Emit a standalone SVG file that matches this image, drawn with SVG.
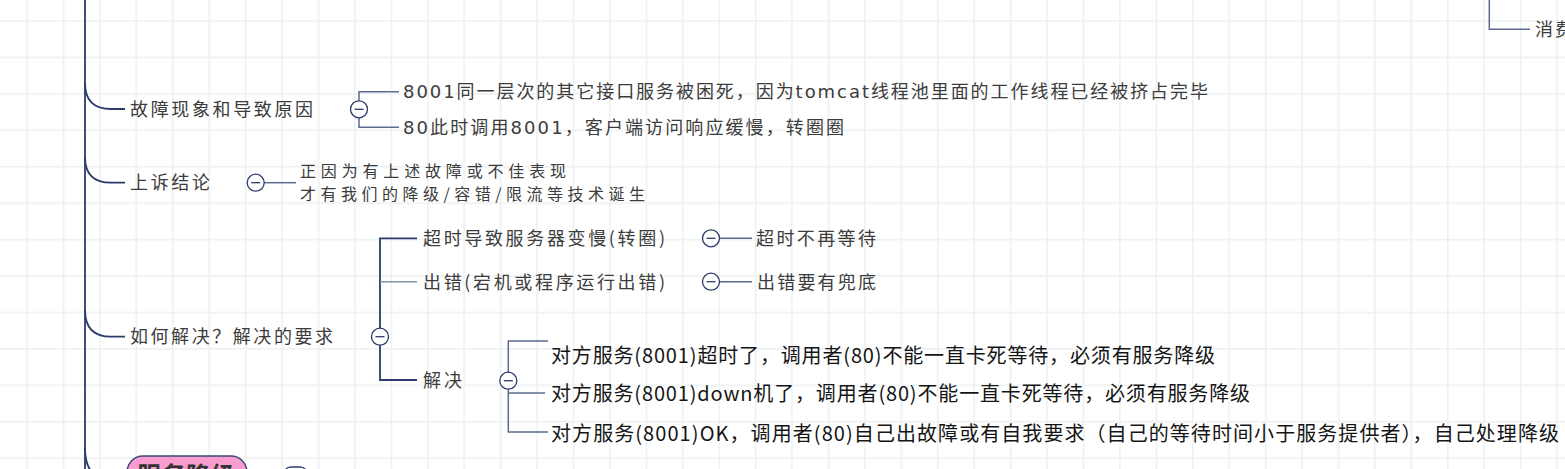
<svg xmlns="http://www.w3.org/2000/svg" width="1565" height="469" viewBox="0 0 1565 469">
<defs>
<pattern id="grid" patternUnits="userSpaceOnUse" x="26.2" y="20.2" width="36.43" height="36.43">
<rect x="0" y="0" width="1.6" height="36.43" fill="#edf1f2"/>
<rect x="0" y="0" width="36.43" height="1.6" fill="#edf1f2"/>
</pattern>
<style>
.main{fill:none;stroke:#2b3c6b;stroke-width:1.8}
.br{fill:none;stroke:#5c6b8d;stroke-width:1.5}
.brl{fill:none;stroke:#8592ab;stroke-width:1.5}
.tog circle{fill:#fff;stroke:#2b3c6b;stroke-width:1.3}
.tog line{stroke:#2b3c6b;stroke-width:1.3}
.lbl{font-family:"Noto Sans CJK SC","Noto Sans",sans-serif;font-size:18px;fill:#3c3c3c}
.lbs{font-family:"Noto Sans CJK SC","Noto Sans",sans-serif;font-size:16px;fill:#3c3c3c}
.lbm{font-family:"DejaVu Sans","Noto Sans CJK SC",sans-serif;font-size:18px;fill:#3c3c3c}
.blk{font-family:"Noto Sans CJK SC","Noto Sans",sans-serif;font-size:20px;fill:#151515}
.big{font-family:"Noto Sans CJK SC","Noto Sans",sans-serif;font-size:24px;font-weight:bold;fill:#333}
</style>
</defs>
<rect x="0" y="0" width="1565" height="469" fill="#ffffff"/>
<rect x="0" y="0" width="1565" height="469" fill="url(#grid)"/>

<g id="connectors">
<path class="main" d="M85,0 V469"/>
<path class="main" d="M85,83 Q85,109 111,109 H125"/>
<path class="main" d="M85,157 Q85,182.7 111,182.7 H125"/>
<path class="main" d="M85,310 Q85,336.7 111,336.7 H125"/>
<path class="main" d="M85,448 Q85,480 112,480"/>
<path class="br" d="M399,91.7 H359 V127.3 H399"/>
<path class="br" d="M264,182.7 H296"/>
<path class="main" d="M417,238.3 H380 V380 H417"/>
<path class="brl" d="M380,281.7 H417"/>
<path class="br" d="M719.5,238.3 H752"/>
<path class="br" d="M719.5,281.7 H752"/>
<path class="br" d="M548,341 H508.3 V432 H548"/>
<path class="br" d="M508.3,393 H545"/>
<path class="br" d="M1489.3,0 V29.3 H1530"/>
</g>

<g id="node-guzhang">
<text class="lbl" x="130" y="115.5" textLength="183" lengthAdjust="spacing">故障现象和导致原因</text>
<g class="tog"><circle cx="359" cy="109.3" r="8.5"/><line x1="354.5" y1="109.3" x2="363.5" y2="109.3"/></g>
</g>
<g id="node-8001">
<text class="lbm" x="403" y="98.4" textLength="805" lengthAdjust="spacing">8001同一层次的其它接口服务被困死，因为tomcat线程池里面的工作线程已经被挤占完毕</text>
</g>
<g id="node-80">
<text class="lbm" x="403" y="134.2" textLength="441" lengthAdjust="spacing">80此时调用8001，客户端访问响应缓慢，转圈圈</text>
</g>
<g id="node-shangsu">
<text class="lbl" x="130" y="189.3" textLength="80" lengthAdjust="spacing">上诉结论</text>
<g class="tog"><circle cx="255.7" cy="182.7" r="8.5"/><line x1="251.2" y1="182.7" x2="260.2" y2="182.7"/></g>
</g>
<g id="node-zhengyin">
<text class="lbs" x="300" y="176.6" textLength="266" lengthAdjust="spacing">正因为有上述故障或不佳表现</text>
<text class="lbs" x="300" y="200.1" textLength="345" lengthAdjust="spacing">才有我们的降级/容错/限流等技术诞生</text>
</g>
<g id="node-ruhe">
<text class="lbl" x="130" y="342.8" textLength="203" lengthAdjust="spacing">如何解决？解决的要求</text>
<g class="tog"><circle cx="380" cy="336.7" r="8.5"/><line x1="375.5" y1="336.7" x2="384.5" y2="336.7"/></g>
</g>
<g id="node-chaoshi">
<text class="lbl" x="423" y="244.8" textLength="242" lengthAdjust="spacing">超时导致服务器变慢(转圈)</text>
<g class="tog"><circle cx="711" cy="238.3" r="8.5"/><line x1="706.5" y1="238.3" x2="715.5" y2="238.3"/></g>
</g>
<g id="node-chaoshi-buzai">
<text class="lbl" x="756" y="244.8" textLength="120" lengthAdjust="spacing">超时不再等待</text>
</g>
<g id="node-chucuo">
<text class="lbl" x="423" y="289.3" textLength="242" lengthAdjust="spacing">出错(宕机或程序运行出错)</text>
<g class="tog"><circle cx="711" cy="281.7" r="8.5"/><line x1="706.5" y1="281.7" x2="715.5" y2="281.7"/></g>
</g>
<g id="node-chucuo-doudi">
<text class="lbl" x="757" y="288.8" textLength="119" lengthAdjust="spacing">出错要有兜底</text>
</g>
<g id="node-jiejue">
<text class="lbl" x="423" y="386.8" textLength="39" lengthAdjust="spacing">解决</text>
<g class="tog"><circle cx="508.3" cy="380.7" r="8.5"/><line x1="503.8" y1="380.7" x2="512.8" y2="380.7"/></g>
</g>
<g id="node-jj1">
<text class="blk" x="551" y="362.6" textLength="664" lengthAdjust="spacing">对方服务(8001)超时了，调用者(80)不能一直卡死等待，必须有服务降级</text>
</g>
<g id="node-jj2">
<text class="blk" x="551" y="400.6" textLength="699" lengthAdjust="spacing">对方服务(8001)down机了，调用者(80)不能一直卡死等待，必须有服务降级</text>
</g>
<g id="node-jj3">
<text class="blk" x="551" y="440.6" textLength="1008" lengthAdjust="spacing">对方服务(8001)OK，调用者(80)自己出故障或有自我要求（自己的等待时间小于服务提供者），自己处理降级</text>
</g>
<g id="node-xiaofei">
<text class="lbl" x="1535" y="35.5" textLength="38" lengthAdjust="spacing">消费</text>
</g>
<g id="node-fuwujiangji">
<rect x="127" y="456" width="120" height="50" rx="16" fill="#f99cd0" stroke="#3a4a75" stroke-width="1.5"/>
<text class="big" x="137" y="484" textLength="98" lengthAdjust="spacing">服务降级</text>
<rect x="283" y="467" width="25" height="16" rx="8" fill="#fff" stroke="#2b3c6b" stroke-width="1.3"/>
</g>
</svg>
